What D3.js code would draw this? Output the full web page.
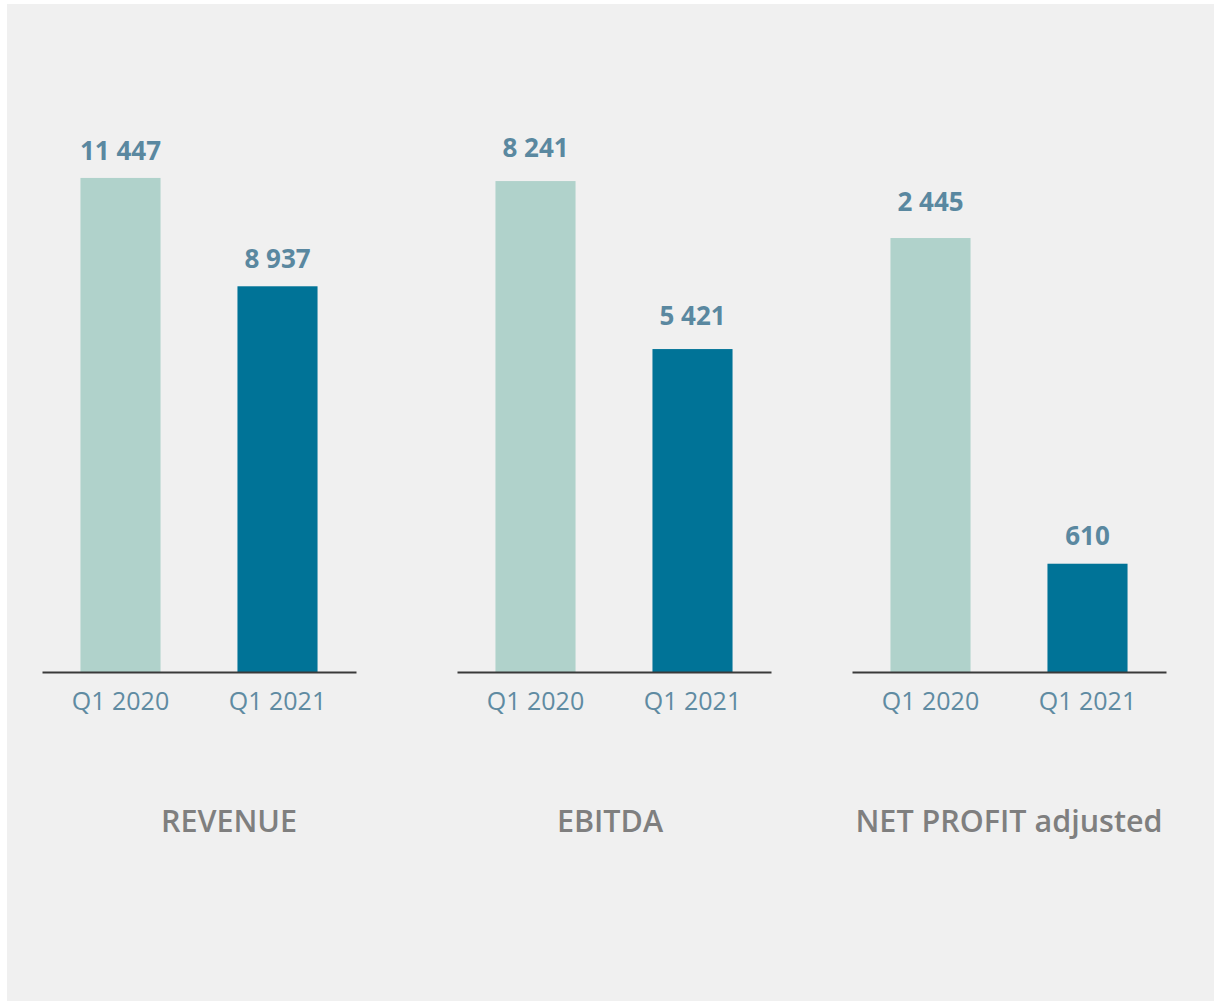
<!DOCTYPE html>
<html>
<head>
<meta charset="utf-8">
<script src="https://cdn.jsdelivr.net/npm/d3@7"></script>
<style>
  body { margin: 0; background: #ffffff; }
  svg { display: block; }
</style>
</head>
<body>
<script>
// data
var periods = ["Q1 2020", "Q1 2021"];
var metrics = ["REVENUE", "EBITDA", "NET PROFIT adjusted"];
var q1_2020 = [11447, 8241, 2445];
var q1_2021 = [8937, 5421, 610];

// each panel has its own scale top
var scaleMax = [13230, 9585, 3217];
var panelLeft = [42, 457, 852];
// gap between bar top and label baseline, per panel / bar
var labelGap = [[18, 18], [24, 24], [27, 19]];
var titleX = [187, 153, 157];

var width = 1214, height = 1002;
var panelW = 314, baseY = 672, topY = 101;
var colors = ["#b0d2cb", "#007397"];
var fmt = function(v) { return d3.format(",")(v).replace(/,/g, " "); };

var svg = d3.select("body").append("svg")
    .attr("width", width)
    .attr("height", height);

// grey background card
svg.append("rect")
    .attr("x", 7).attr("y", 4)
    .attr("width", 1207).attr("height", 997)
    .attr("fill", "#f0f0f0");

var x = d3.scaleBand()
    .domain(periods)
    .range([0, panelW])
    .paddingInner(0.49)
    .paddingOuter(0.245);

metrics.forEach(function(m, i) {
    var vals = [q1_2020[i], q1_2021[i]];
    var y = d3.scaleLinear().domain([0, scaleMax[i]]).range([baseY, topY]);

    var g = svg.append("g")
        .attr("transform", "translate(" + panelLeft[i] + ",0)");

    g.selectAll("rect.bar")
        .data(vals)
        .enter()
        .append("rect")
        .attr("class", "bar")
        .attr("x", function(d, j) { return x(periods[j]); })
        .attr("y", function(d) { return y(d); })
        .attr("width", x.bandwidth())
        .attr("height", function(d) { return baseY - y(d); })
        .attr("fill", function(d, j) { return colors[j]; });

    // value labels
    g.selectAll("text.val")
        .data(vals)
        .enter()
        .append("text")
        .attr("class", "val")
        .attr("x", function(d, j) { return x(periods[j]) + x.bandwidth() / 2; })
        .attr("y", function(d, j) { return y(d) - labelGap[i][j]; })
        .attr("text-anchor", "middle")
        .style("font-family", "'Open Sans', sans-serif")
        .style("font-weight", "bold")
        .style("font-size", "26px")
        .style("fill", "#5a88a0")
        .text(function(d) { return fmt(d); });

    // axis
    var ax = g.append("g")
        .attr("transform", "translate(0," + baseY + ")")
        .call(d3.axisBottom(x).tickSize(0).tickPadding(20));
    ax.select(".domain")
        .attr("stroke", "#3a3a3a")
        .attr("stroke-width", 2);
    ax.selectAll(".tick text")
        .style("font-family", "'Open Sans', sans-serif")
        .style("font-size", "25px")
        .style("fill", "#5f8ba2");

    // panel title
    g.append("text")
        .attr("x", titleX[i])
        .attr("y", 832)
        .attr("text-anchor", "middle")
        .style("font-family", "'Open Sans', sans-serif")
        .style("font-weight", "600")
        .style("font-size", "30.5px")
        .style("fill", "#7f7f7f")
        .text(m);
});
</script>
</body>
</html>
